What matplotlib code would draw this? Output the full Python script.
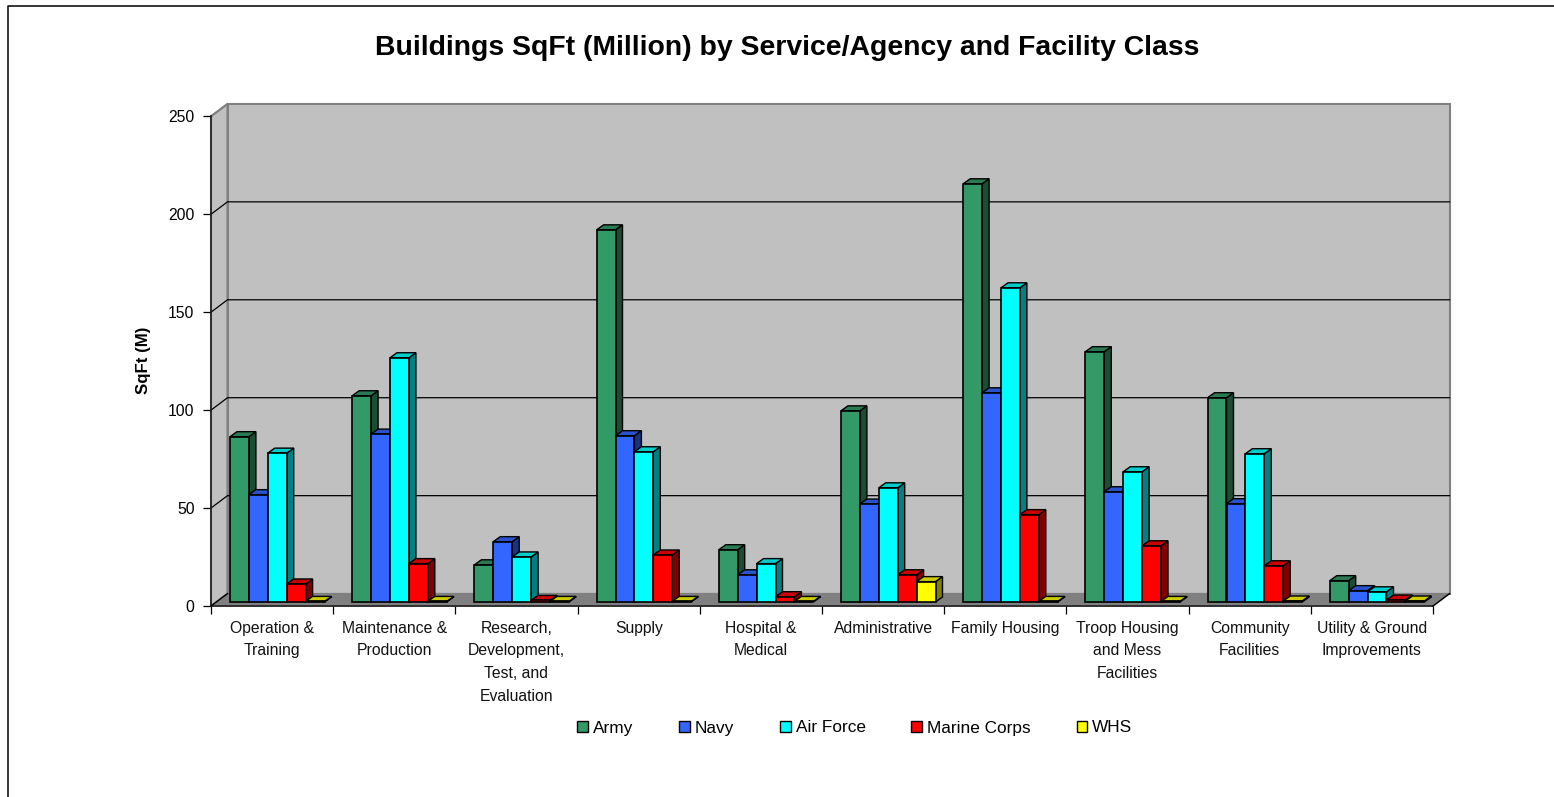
import numpy as np
import matplotlib
matplotlib.use('Agg')
import matplotlib.pyplot as plt
from matplotlib.lines import Line2D
from matplotlib.patches import Patch, Polygon

plt.rcParams['font.family'] = ['Liberation Sans', 'DejaVu Sans']

categories = ['Operation &\nTraining', 'Maintenance &\nProduction',
              'Research,\nDevelopment,\nTest, and\nEvaluation', 'Supply',
              'Hospital &\nMedical', 'Administrative', 'Family Housing',
              'Troop Housing\nand Mess\nFacilities', 'Community\nFacilities',
              'Utility & Ground\nImprovements']
services = ['Army', 'Navy', 'Air Force', 'Marine Corps', 'WHS']

army = [84.4, 105.3, 19.0, 190.0, 26.7, 97.6, 213.5, 127.8, 104.3, 10.9]
navy = [54.8, 85.7, 30.8, 84.9, 13.9, 50.0, 106.8, 56.3, 50.2, 5.8]
air_force = [76.0, 124.7, 23.0, 76.7, 19.6, 58.3, 160.4, 66.5, 75.7, 5.2]
marine = [9.2, 19.6, 0.8, 24.0, 2.7, 13.9, 44.6, 28.7, 18.5, 1.0]
whs = [0.3, 0.3, 0.3, 0.3, 0.3, 10.4, 0.3, 0.3, 0.5, 0.5]
yticks = [0, 50, 100, 150, 200, 250]

front = ['#339966', '#3366FF', '#00FFFF', '#FF0000', '#FFFF00']
top = ['#297A52', '#2952CC', '#00CCCC', '#CC0000', '#CCCC00']
side = ['#1A4D33', '#1A3380', '#008080', '#800000', '#808000']

W, H = 1554, 797
# front plane of the fake 3d box, in pixels
left, right, y0, y250 = 211, 1433, 606, 116.3
fig = plt.figure(figsize=(W / 100, H / 100), dpi=100)
ax = fig.add_axes([left / W, 1 - y0 / H, (right - left) / W, (y0 - y250) / H])
ax.set_xlim(0, 10)
ax.set_ylim(0, 250)

px = 10 / (right - left)
py = 250 / (y0 - y250)
wall_dx, wall_dy = 16.5 * px, 12.4 * py
base_dx, base_dy = 5 * px, 4 * py
bar_dx, bar_dy = 7 * px, 5 * py
bar_w = 18.9 * px
margin = 14 * px


def poly(pts, face, edge='black', lw=1.0):
    ax.add_patch(Polygon(pts, closed=True, facecolor=face, edgecolor=edge, linewidth=lw,
                         clip_on=False, joinstyle='miter'))


# walls and floor
grey = '#808080'
poly([(0, 0), (wall_dx, wall_dy), (wall_dx, 250 + wall_dy), (0, 250)], '#C0C0C0', grey, 1.5)
poly([(wall_dx, wall_dy), (10 + wall_dx, wall_dy), (10 + wall_dx, 250 + wall_dy),
      (wall_dx, 250 + wall_dy)], '#C0C0C0', grey, 1.5)
poly([(0, 0), (10, 0), (10 + wall_dx, wall_dy), (wall_dx, wall_dy)], grey, grey, 1.0)

for v in yticks[1:-1]:
    ax.plot([0, wall_dx, 10 + wall_dx], [v, v + wall_dy, v + wall_dy], color='black', lw=0.9,
            zorder=1, clip_on=False, solid_joinstyle='miter')
ax.plot([0, wall_dx], [250, 250 + wall_dy], color=grey, lw=1.2, zorder=1, clip_on=False)
ax.plot([10, 10 + wall_dx], [0, wall_dy], color='black', lw=1.0, zorder=3, clip_on=False)
ax.plot([0, wall_dx], [0, wall_dy], color='black', lw=1.0, zorder=3, clip_on=False)

# bars, left to right so each front covers the side face before it
series = [army, navy, air_force, marine, whs]
for g in range(len(categories)):
    for s, values in enumerate(series):
        v = values[g]
        x = g + margin + base_dx + s * bar_w
        b = base_dy
        poly([(x + bar_w, b), (x + bar_w + bar_dx, b + bar_dy),
              (x + bar_w + bar_dx, b + v + bar_dy), (x + bar_w, b + v)], side[s])
        poly([(x, b + v), (x + bar_dx, b + v + bar_dy), (x + bar_w + bar_dx, b + v + bar_dy),
              (x + bar_w, b + v)], top[s])
        ax.bar(x, v, width=bar_w, bottom=b, align='edge', color=front[s], edgecolor='black',
               linewidth=1.2, clip_on=False)

# axes
for name in ['top', 'right']:
    ax.spines[name].set_visible(False)
for name in ['left', 'bottom']:
    ax.spines[name].set_color('#202020')
    ax.spines[name].set_linewidth(1.2)
ax.patch.set_visible(False)

ax.set_yticks(yticks)
ax.tick_params(axis='y', length=5.8, width=0.9, pad=6, labelsize=11.3)
ax.set_xticks(range(11))
ax.set_xticks(np.arange(10) + 0.5, minor=True)
ax.set_xticklabels([])
ax.set_xticklabels(categories, minor=True, fontsize=11.3, linespacing=1.64, color='#111111')
ax.tick_params(axis='x', which='major', length=5.5, width=0.9)
ax.tick_params(axis='x', which='minor', length=0, pad=10.5)
ax.set_ylabel('SqFt (M)', fontsize=12.2, fontweight='bold', labelpad=0)
ax.yaxis.set_label_coords((151 - left) / (right - left), (y0 - 360) / (y0 - y250))

fig.text(787 / W, 1 - 48 / H, 'Buildings SqFt (Million) by Service/Agency and Facility Class',
         ha='center', va='center', fontsize=20.4, fontweight='bold')

handles = [Patch(facecolor=c, edgecolor='black', linewidth=1.0) for c in front]
fig.legend(handles, services, ncol=5, frameon=False, fontsize=12.4,
           loc='center', bbox_to_anchor=(855 / W, 1 - 728 / H), handlelength=0.62,
           handleheight=0.62, handletextpad=0.3, columnspacing=2.65, borderpad=0, borderaxespad=0)

# outer chart border runs off the right and bottom of the image
fig.add_artist(Line2D([8 / W, 8 / W, 1], [0, 1 - 6 / H, 1 - 6 / H], color='black', lw=1.1,
                      transform=fig.transFigure))

fig.savefig('out.png', dpi=100)
